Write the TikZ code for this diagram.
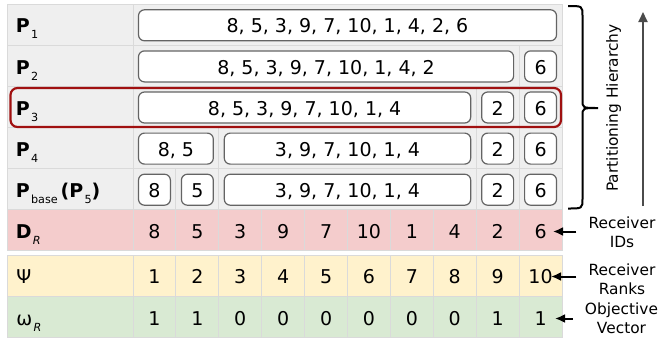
\documentclass[tikz,border=0pt]{standalone}
\usepackage{fontspec}
\setmainfont{DejaVu Sans}
\usepackage{tikz}
\usetikzlibrary{arrows.meta, positioning, calc, decorations.pathreplacing}
\definecolor{rowgray}{RGB}{239, 239, 239}
\definecolor{gridgray}{RGB}{218, 218, 218}
\definecolor{idsred}{RGB}{244, 204, 204}
\definecolor{rankyellow}{RGB}{255, 242, 204}
\definecolor{objgreen}{RGB}{217, 234, 211}
\definecolor{boxgray}{RGB}{100, 100, 100}
\definecolor{markred}{RGB}{160, 16, 16}
\definecolor{hiergray}{RGB}{75, 75, 75}
\newcommand{\lowsub}[1]{\kern0.6pt\raisebox{-3pt}{\fontsize{5.6}{6}\selectfont\mdseries\upshape #1}}

\begin{document}
\begin{tikzpicture}[x=0.5pt, y=-0.5pt, font=\fontsize{9.5}{11}\selectfont,
        grid/.style={gridgray, line width=0.5pt},
        part/.style={draw=boxgray, fill=white, line width=0.6pt, rounded corners=3pt,
                     minimum height=15.5pt, inner sep=0pt, text height=7.6pt, text depth=0pt},
        head/.style={anchor=base west, inner sep=0pt},
        num/.style={anchor=base, inner sep=0pt},
        note/.style={font=\fontsize{7.7}{9.5}\selectfont, align=center, inner xsep=6pt, inner ysep=0pt},
        ptr/.style={-{Latex[length=5pt, width=4.5pt]}, line width=1pt, black}
    ]
        \useasboundingbox (0,0) rectangle (664,343);

        % row backgrounds
        \fill[rowgray] (7.5,4) rectangle (562,209.5);
        \fill[idsred] (7.5,209.5) rectangle (562,250.5);
        \fill[rankyellow] (7.5,255) rectangle (562,296.3);
        \fill[objgreen] (7.5,296.3) rectangle (562,337.5);

        % grid lines
        \foreach \y in {4, 45.1, 86.2, 127.3, 168.4, 209.5, 250.5, 255, 296.3, 337.5}
            \draw[grid] (7.5,\y) -- (562,\y);
        \foreach \x in {7.5, 133, 562} {
            \draw[grid] (\x,4) -- (\x,250.5);
            \draw[grid] (\x,255) -- (\x,337.5);
        }
        \foreach \k in {1,...,9} {
            \draw[grid] ({133+42.9*\k},209.5) -- ({133+42.9*\k},250.5);
            \draw[grid] ({133+42.9*\k},255) -- ({133+42.9*\k},337.5);
        }
        \foreach \r/\k in {2/9, 3/8, 3/9, 4/2, 4/8, 4/9, 5/1, 5/2, 5/8, 5/9}
            \draw[grid] ({133+42.9*\k},{4+41.1*(\r-1)}) -- ({133+42.9*\k},{4+41.1*\r});

        % partitions
        \foreach \r/\a/\b/\txt in {1/1/10/{8, 5, 3, 9, 7, 10, 1, 4, 2, 6},
                2/1/9/{8, 5, 3, 9, 7, 10, 1, 4, 2}, 2/10/10/6,
                3/1/8/{8, 5, 3, 9, 7, 10, 1, 4}, 3/9/9/2, 3/10/10/6,
                4/1/2/{8, 5}, 4/3/8/{3, 9, 7, 10, 1, 4}, 4/9/9/2, 4/10/10/6,
                5/1/1/8, 5/2/2/5, 5/3/8/{3, 9, 7, 10, 1, 4}, 5/9/9/2, 5/10/10/6} {
            \pgfmathsetmacro\cx{133+42.9*(\a-1+\b)/2}
            \pgfmathsetmacro\bw{(42.9*(\b-\a+1)-11)/2}
            \node[part, minimum width=\bw pt] (p\r-\a) at (\cx,{25.3+41.1*(\r-1)}) {\txt};
        }

        % selected level
        \draw[markred, line width=1.1pt, rounded corners=3.5pt] (10.5,88) rectangle (561,127);

        % row labels
        \foreach \r in {1,...,4}
            \node[head] (h\r) at (15.5,{32.9+41.1*(\r-1)}) {\textbf{P}\lowsub{\r}};
        \node[head] (h5) at (15.5,197.3) {\textbf{P}\lowsub{base}\kern1.5pt\textbf{(P}\lowsub{5}\textbf{)}};
        \node[head] (hD) at (15.5,238) {\textbf{D}\lowsub{\itshape R}};
        \node[head] (hPsi) at (16,283.5) {Ψ};
        \node[head] (hOmega) at (16,325) {ω\lowsub{\itshape R}};

        % values
        \foreach \v [count=\i] in {8,5,3,9,7,10,1,4,2,6}
            \node[num] (dr\i) at ({133+42.9*(\i-0.5)},238.3) {\v};
        \foreach \v [count=\i] in {1,...,10}
            \node[num] (psi\i) at ({133+42.9*(\i-0.5)},283.5) {\v};
        \foreach \v [count=\i] in {1,1,0,0,0,0,0,0,1,1}
            \node[num] (om\i) at ({133+42.9*(\i-0.5)},325) {\v};

        % hierarchy marker
        \draw[line width=1pt] (568,6) .. controls (582.5,6) .. (582.5,16) -- (582.5,100)
            .. controls (582.5,108) .. (598,108) .. controls (582.5,108) .. (582.5,116)
            -- (582.5,198.5) .. controls (582.5,208.5) .. (568,208.5);
        \node[note, rotate=90] (hier) at (613.5,108) {Partitioning Hierarchy};
        \coordinate (hierLow) at (643,206);
        \coordinate (hierHigh) at (643,12);
        \draw[hiergray, line width=0.9pt, -{Triangle[length=5pt, width=4.5pt]}] (hierLow) -- (hierHigh);

        % side notes
        \node[note] (ids) at (622,232.5) {Receiver\\IDs};
        \node[note] (ranks) at (622,279) {Receiver\\Ranks};
        \node[note] (obj) at (621.5,318) {Objective\\Vector};
        \coordinate (idsTip) at (553,231.5);
        \coordinate (ranksTip) at (551,276.5);
        \coordinate (objTip) at (555,318.5);
        \draw[ptr] (ids.west |- idsTip) -- (idsTip);
        \draw[ptr] (ranks.west |- ranksTip) -- (ranksTip);
        \draw[ptr] (obj.west |- objTip) -- (objTip);
    \end{tikzpicture}
\end{document}
